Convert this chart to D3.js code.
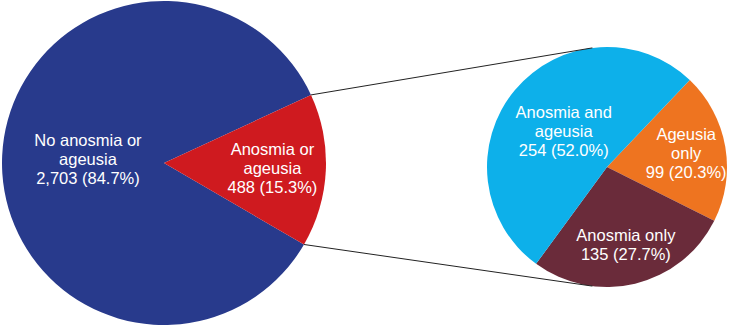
<!DOCTYPE html>
<html>
<head>
<meta charset="utf-8">
<script src="https://cdn.jsdelivr.net/npm/d3@7"></script>
<style>
  body { margin: 0; background: #fff; }
  svg { display: block; }
  .lbl { font-family: "Liberation Sans", Arial, sans-serif; font-size: 16.5px; fill: #fff; text-anchor: middle; }
</style>
</head>
<body>
<svg id="chart"></svg>
<script>
var width = 729, height = 327;

// overall split
var mainLabels = [["No anosmia or", "ageusia"], ["Anosmia or", "ageusia"]];
var mainValues = [2703, 488];
var mainPct = ["84.7%", "15.3%"];
var mainColors = ["#283a8c", "#cf1a1f"];

// breakdown of the 488
var subLabels = [["Ageusia", "only"], ["Anosmia only"], ["Anosmia and", "ageusia"]];
var subValues = [99, 135, 254];
var subPct = ["20.3%", "27.7%", "52.0%"];
var subColors = ["#ee7420", "#6a2b3a", "#0db0ea"];

var deg = Math.PI / 180;

var svg = d3.select("#chart")
    .attr("width", width)
    .attr("height", height);

function fmt(v) { return d3.format(",")(v); }

function drawPie(cx, cy, r, values, labels, pct, colors, start) {
  var pie = d3.pie().sort(null)
    .startAngle(start).endAngle(start + 2 * Math.PI);
  var arcs = pie(values);
  var arc = d3.arc().innerRadius(0).outerRadius(r);
  var g = svg.append("g").attr("transform", "translate(" + cx + "," + cy + ")");

  g.selectAll("path")
    .data(arcs)
    .enter().append("path")
    .attr("d", arc)
    .attr("fill", function(d, i) { return colors[i]; });

  var lineH = 19.1;
  arcs.forEach(function(d, i) {
    var big = (d.endAngle - d.startAngle) > Math.PI;
    var lr = r * (big ? 0.47 : 0.67);
    var a = (d.startAngle + d.endAngle) / 2;
    var x = Math.sin(a) * lr, y = -Math.cos(a) * lr;
    var lines = labels[i].concat([fmt(values[i]) + " (" + pct[i] + ")"]);
    var t = g.append("text").attr("class", "lbl");
    lines.forEach(function(s, k) {
      t.append("tspan")
        .attr("x", x)
        .attr("y", y + (k - (lines.length - 1) / 2) * lineH)
        .attr("dy", "0.35em")
        .text(s);
    });
  });
  return arcs;
}

var big = {cx: 164, cy: 163, r: 162};
var small = {cx: 607, cy: 167, r: 120};

var mainArcs = drawPie(big.cx, big.cy, big.r, mainValues, mainLabels, mainPct, mainColors, 120.2 * deg);
drawPie(small.cx, small.cy, small.r, subValues, subLabels, subPct, subColors, 43.6 * deg);

// connectors from the red slice to the breakdown pie
function pt(c, a) { return [c.cx + Math.sin(a) * c.r, c.cy - Math.cos(a) * c.r]; }
var red = mainArcs[1];
var links = [
  [pt(big, red.startAngle - 2 * Math.PI), pt(small, -7 * deg)],
  [pt(big, red.endAngle - 2 * Math.PI), pt(small, 187 * deg)]
];
svg.selectAll("line.link")
  .data(links)
  .enter().append("line")
  .attr("class", "link")
  .attr("x1", function(d) { return d[0][0]; })
  .attr("y1", function(d) { return d[0][1]; })
  .attr("x2", function(d) { return d[1][0]; })
  .attr("y2", function(d) { return d[1][1]; })
  .attr("stroke", "#222")
  .attr("stroke-width", 1);
</script>
</body>
</html>
